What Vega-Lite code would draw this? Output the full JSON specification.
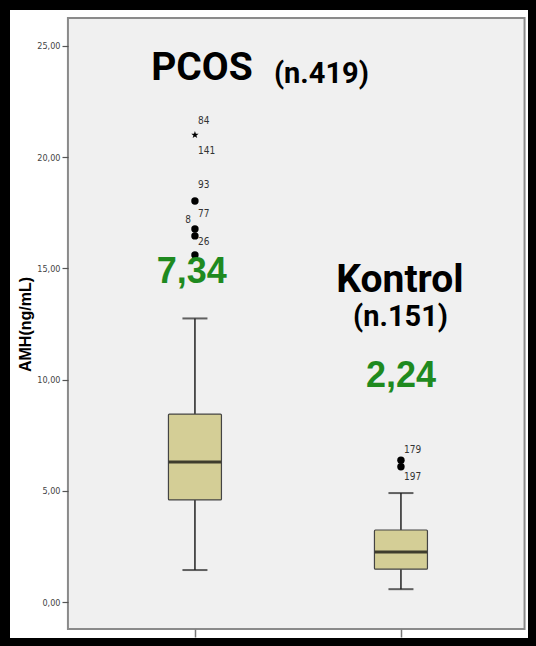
{
  "$schema": "https://vega.github.io/schema/vega-lite/v6.json",
  "width": 528,
  "height": 638,
  "autosize": "none",
  "padding": {"left": 5, "top": 5, "right": 3, "bottom": 3},
  "background": "white",
  "config": {"view": {"stroke": "black", "strokeWidth": 10, "fill": "white"}},
  "datasets": {
    "boxes": [
      {"group": "PCOS", "pos": 1, "lower": 1.44, "q1": 4.59, "median": 6.3, "q3": 8.45, "upper": 12.75},
      {"group": "Kontrol", "pos": 2, "lower": 0.58, "q1": 1.48, "median": 2.25, "q3": 3.24, "upper": 4.9}
    ],
    "outliers": [
      {"pos": 1, "value": 21.0, "kind": "extreme"},
      {"pos": 1, "value": 18.03, "kind": "out"},
      {"pos": 1, "value": 16.77, "kind": "out"},
      {"pos": 1, "value": 16.46, "kind": "out"},
      {"pos": 1, "value": 15.6, "kind": "out"},
      {"pos": 2, "value": 6.38, "kind": "out"},
      {"pos": 2, "value": 6.08, "kind": "out"}
    ],
    "caseids": [
      {"pos": 1, "value": 21.63, "id": "84", "side": "right"},
      {"pos": 1, "value": 20.28, "id": "141", "side": "right"},
      {"pos": 1, "value": 18.75, "id": "93", "side": "right"},
      {"pos": 1, "value": 17.45, "id": "77", "side": "right"},
      {"pos": 1, "value": 16.19, "id": "26", "side": "right"},
      {"pos": 1, "value": 17.18, "id": "8", "side": "left"},
      {"pos": 2, "value": 6.83, "id": "179", "side": "right"},
      {"pos": 2, "value": 5.62, "id": "197", "side": "right"}
    ],
    "notes": [
      {"text": "PCOS", "pos": 1.034, "value": 24.03, "role": "name"},
      {"text": "(n.419)", "pos": 1.614, "value": 23.75, "role": "count"},
      {"text": "Kontrol", "pos": 1.995, "value": 14.48, "role": "name"},
      {"text": "(n.151)", "pos": 1.998, "value": 12.81, "role": "count"},
      {"text": "7,34", "pos": 0.985, "value": 14.84, "role": "mean"},
      {"text": "2,24", "pos": 2.0, "value": 10.18, "role": "mean"}
    ]
  },
  "layer": [
    {
      "data": {"values": [{}]},
      "mark": {"type": "rect", "fill": "#f0f0f0", "stroke": "#8a8a8a", "strokeWidth": 2},
      "encoding": {
        "x": {"datum": 0.3835, "type": "quantitative", "title": null,
          "scale": {"domain": [0.078, 2.641], "nice": false, "zero": false, "padding": 0},
          "axis": {"values": [1, 2], "offset": -14, "labels": false, "domain": false, "grid": false, "tickSize": 8, "tickColor": "#777", "tickWidth": 1.5, "title": null, "zindex": 1}},
        "x2": {"datum": 2.6},
        "y": {"datum": 26.26, "type": "quantitative", "title": "AMH(ng/mL)",
          "scale": {"domain": [-1.84, 26.84], "nice": false, "zero": false, "padding": 0},
          "axis": {"values": [0, 5, 10, 15, 20, 25], "offset": -63, "domain": false, "grid": false, "tickSize": 6, "tickColor": "#555", "tickWidth": 1.2, "labelExpr": "replace(format(datum.value, '.2f'), '.', ',')", "labelFont": "Liberation Sans Narrow, DejaVu Sans Condensed, Liberation Sans, sans-serif", "labelFontSize": 9, "labelColor": "#444", "labelPadding": 2, "title": "AMH(ng/mL)", "titleFont": "Liberation Sans", "titleFontSize": 16, "titleFontWeight": "bold", "titleColor": "#000", "titlePadding": 3, "zindex": 1}},
        "y2": {"datum": -1.214}
      }
    },
    {
      "data": {"name": "boxes"},
      "mark": {"type": "rule", "stroke": "#222", "strokeWidth": 1.5},
      "encoding": {
        "x": {"field": "pos", "type": "quantitative", "title": null,
          "scale": {"domain": [0.078, 2.641], "nice": false, "zero": false, "padding": 0},
          "axis": {"values": [1, 2], "offset": -14, "labels": false, "domain": false, "grid": false, "tickSize": 8, "tickColor": "#777", "tickWidth": 1.5, "title": null, "zindex": 1}},
        "y": {"field": "lower", "type": "quantitative", "title": "AMH(ng/mL)",
          "scale": {"domain": [-1.84, 26.84], "nice": false, "zero": false, "padding": 0},
          "axis": {"values": [0, 5, 10, 15, 20, 25], "offset": -63, "domain": false, "grid": false, "tickSize": 6, "tickColor": "#555", "tickWidth": 1.2, "labelExpr": "replace(format(datum.value, '.2f'), '.', ',')", "labelFont": "Liberation Sans Narrow, DejaVu Sans Condensed, Liberation Sans, sans-serif", "labelFontSize": 9, "labelColor": "#444", "labelPadding": 2, "title": "AMH(ng/mL)", "titleFont": "Liberation Sans", "titleFontSize": 16, "titleFontWeight": "bold", "titleColor": "#000", "titlePadding": 3, "zindex": 1}},
        "y2": {"field": "upper"}
      }
    },
    {
      "data": {"name": "boxes"},
      "transform": [{"fold": ["lower", "upper"], "as": ["end", "whisker"]}],
      "mark": {"type": "tick", "orient": "horizontal", "size": 25, "thickness": 2, "color": "#222"},
      "encoding": {
        "x": {"field": "pos", "type": "quantitative", "title": null,
          "scale": {"domain": [0.078, 2.641], "nice": false, "zero": false, "padding": 0},
          "axis": {"values": [1, 2], "offset": -14, "labels": false, "domain": false, "grid": false, "tickSize": 8, "tickColor": "#777", "tickWidth": 1.5, "title": null, "zindex": 1}},
        "y": {"field": "whisker", "type": "quantitative", "title": "AMH(ng/mL)",
          "scale": {"domain": [-1.84, 26.84], "nice": false, "zero": false, "padding": 0},
          "axis": {"values": [0, 5, 10, 15, 20, 25], "offset": -63, "domain": false, "grid": false, "tickSize": 6, "tickColor": "#555", "tickWidth": 1.2, "labelExpr": "replace(format(datum.value, '.2f'), '.', ',')", "labelFont": "Liberation Sans Narrow, DejaVu Sans Condensed, Liberation Sans, sans-serif", "labelFontSize": 9, "labelColor": "#444", "labelPadding": 2, "title": "AMH(ng/mL)", "titleFont": "Liberation Sans", "titleFontSize": 16, "titleFontWeight": "bold", "titleColor": "#000", "titlePadding": 3, "zindex": 1}}
      }
    },
    {
      "data": {"name": "boxes"},
      "mark": {"type": "bar", "size": 53, "fill": "#d4ce96", "stroke": "#444", "strokeWidth": 1.2, "cornerRadius": 1},
      "encoding": {
        "x": {"field": "pos", "type": "quantitative", "title": null,
          "scale": {"domain": [0.078, 2.641], "nice": false, "zero": false, "padding": 0},
          "axis": {"values": [1, 2], "offset": -14, "labels": false, "domain": false, "grid": false, "tickSize": 8, "tickColor": "#777", "tickWidth": 1.5, "title": null, "zindex": 1}},
        "y": {"field": "q1", "type": "quantitative", "title": "AMH(ng/mL)",
          "scale": {"domain": [-1.84, 26.84], "nice": false, "zero": false, "padding": 0},
          "axis": {"values": [0, 5, 10, 15, 20, 25], "offset": -63, "domain": false, "grid": false, "tickSize": 6, "tickColor": "#555", "tickWidth": 1.2, "labelExpr": "replace(format(datum.value, '.2f'), '.', ',')", "labelFont": "Liberation Sans Narrow, DejaVu Sans Condensed, Liberation Sans, sans-serif", "labelFontSize": 9, "labelColor": "#444", "labelPadding": 2, "title": "AMH(ng/mL)", "titleFont": "Liberation Sans", "titleFontSize": 16, "titleFontWeight": "bold", "titleColor": "#000", "titlePadding": 3, "zindex": 1}},
        "y2": {"field": "q3"}
      }
    },
    {
      "data": {"name": "boxes"},
      "mark": {"type": "tick", "orient": "horizontal", "size": 52, "thickness": 3, "color": "#000"},
      "encoding": {
        "x": {"field": "pos", "type": "quantitative", "title": null,
          "scale": {"domain": [0.078, 2.641], "nice": false, "zero": false, "padding": 0},
          "axis": {"values": [1, 2], "offset": -14, "labels": false, "domain": false, "grid": false, "tickSize": 8, "tickColor": "#777", "tickWidth": 1.5, "title": null, "zindex": 1}},
        "y": {"field": "median", "type": "quantitative", "title": "AMH(ng/mL)",
          "scale": {"domain": [-1.84, 26.84], "nice": false, "zero": false, "padding": 0},
          "axis": {"values": [0, 5, 10, 15, 20, 25], "offset": -63, "domain": false, "grid": false, "tickSize": 6, "tickColor": "#555", "tickWidth": 1.2, "labelExpr": "replace(format(datum.value, '.2f'), '.', ',')", "labelFont": "Liberation Sans Narrow, DejaVu Sans Condensed, Liberation Sans, sans-serif", "labelFontSize": 9, "labelColor": "#444", "labelPadding": 2, "title": "AMH(ng/mL)", "titleFont": "Liberation Sans", "titleFontSize": 16, "titleFontWeight": "bold", "titleColor": "#000", "titlePadding": 3, "zindex": 1}}
      }
    },
    {
      "data": {"name": "outliers"},
      "transform": [{"filter": "datum.kind == 'out'"}],
      "mark": {"type": "point", "shape": "circle", "filled": true, "size": 55, "color": "#000", "opacity": 1},
      "encoding": {
        "x": {"field": "pos", "type": "quantitative", "title": null,
          "scale": {"domain": [0.078, 2.641], "nice": false, "zero": false, "padding": 0},
          "axis": {"values": [1, 2], "offset": -14, "labels": false, "domain": false, "grid": false, "tickSize": 8, "tickColor": "#777", "tickWidth": 1.5, "title": null, "zindex": 1}},
        "y": {"field": "value", "type": "quantitative", "title": "AMH(ng/mL)",
          "scale": {"domain": [-1.84, 26.84], "nice": false, "zero": false, "padding": 0},
          "axis": {"values": [0, 5, 10, 15, 20, 25], "offset": -63, "domain": false, "grid": false, "tickSize": 6, "tickColor": "#555", "tickWidth": 1.2, "labelExpr": "replace(format(datum.value, '.2f'), '.', ',')", "labelFont": "Liberation Sans Narrow, DejaVu Sans Condensed, Liberation Sans, sans-serif", "labelFontSize": 9, "labelColor": "#444", "labelPadding": 2, "title": "AMH(ng/mL)", "titleFont": "Liberation Sans", "titleFontSize": 16, "titleFontWeight": "bold", "titleColor": "#000", "titlePadding": 3, "zindex": 1}}
      }
    },
    {
      "data": {"name": "outliers"},
      "transform": [{"filter": "datum.kind == 'extreme'"}],
      "mark": {"type": "point", "shape": "M0,-1L0.24,-0.31L0.95,-0.31L0.38,0.12L0.59,0.81L0,0.4L-0.59,0.81L-0.38,0.12L-0.95,-0.31L-0.24,-0.31Z", "filled": true, "size": 60, "color": "#000", "opacity": 1},
      "encoding": {
        "x": {"field": "pos", "type": "quantitative", "title": null,
          "scale": {"domain": [0.078, 2.641], "nice": false, "zero": false, "padding": 0},
          "axis": {"values": [1, 2], "offset": -14, "labels": false, "domain": false, "grid": false, "tickSize": 8, "tickColor": "#777", "tickWidth": 1.5, "title": null, "zindex": 1}},
        "y": {"field": "value", "type": "quantitative", "title": "AMH(ng/mL)",
          "scale": {"domain": [-1.84, 26.84], "nice": false, "zero": false, "padding": 0},
          "axis": {"values": [0, 5, 10, 15, 20, 25], "offset": -63, "domain": false, "grid": false, "tickSize": 6, "tickColor": "#555", "tickWidth": 1.2, "labelExpr": "replace(format(datum.value, '.2f'), '.', ',')", "labelFont": "Liberation Sans Narrow, DejaVu Sans Condensed, Liberation Sans, sans-serif", "labelFontSize": 9, "labelColor": "#444", "labelPadding": 2, "title": "AMH(ng/mL)", "titleFont": "Liberation Sans", "titleFontSize": 16, "titleFontWeight": "bold", "titleColor": "#000", "titlePadding": 3, "zindex": 1}}
      }
    },
    {
      "data": {"name": "caseids"},
      "transform": [{"filter": "datum.side == 'right'"}],
      "mark": {"type": "text", "align": "left", "baseline": "middle", "dx": 3, "font": "Liberation Sans Narrow, DejaVu Sans Condensed, Liberation Sans, sans-serif", "fontSize": 10, "color": "#333"},
      "encoding": {
        "x": {"field": "pos", "type": "quantitative", "title": null,
          "scale": {"domain": [0.078, 2.641], "nice": false, "zero": false, "padding": 0},
          "axis": {"values": [1, 2], "offset": -14, "labels": false, "domain": false, "grid": false, "tickSize": 8, "tickColor": "#777", "tickWidth": 1.5, "title": null, "zindex": 1}},
        "y": {"field": "value", "type": "quantitative", "title": "AMH(ng/mL)",
          "scale": {"domain": [-1.84, 26.84], "nice": false, "zero": false, "padding": 0},
          "axis": {"values": [0, 5, 10, 15, 20, 25], "offset": -63, "domain": false, "grid": false, "tickSize": 6, "tickColor": "#555", "tickWidth": 1.2, "labelExpr": "replace(format(datum.value, '.2f'), '.', ',')", "labelFont": "Liberation Sans Narrow, DejaVu Sans Condensed, Liberation Sans, sans-serif", "labelFontSize": 9, "labelColor": "#444", "labelPadding": 2, "title": "AMH(ng/mL)", "titleFont": "Liberation Sans", "titleFontSize": 16, "titleFontWeight": "bold", "titleColor": "#000", "titlePadding": 3, "zindex": 1}},
        "text": {"field": "id"}
      }
    },
    {
      "data": {"name": "caseids"},
      "transform": [{"filter": "datum.side == 'left'"}],
      "mark": {"type": "text", "align": "right", "baseline": "middle", "dx": -4, "font": "Liberation Sans Narrow, DejaVu Sans Condensed, Liberation Sans, sans-serif", "fontSize": 10, "color": "#333"},
      "encoding": {
        "x": {"field": "pos", "type": "quantitative", "title": null,
          "scale": {"domain": [0.078, 2.641], "nice": false, "zero": false, "padding": 0},
          "axis": {"values": [1, 2], "offset": -14, "labels": false, "domain": false, "grid": false, "tickSize": 8, "tickColor": "#777", "tickWidth": 1.5, "title": null, "zindex": 1}},
        "y": {"field": "value", "type": "quantitative", "title": "AMH(ng/mL)",
          "scale": {"domain": [-1.84, 26.84], "nice": false, "zero": false, "padding": 0},
          "axis": {"values": [0, 5, 10, 15, 20, 25], "offset": -63, "domain": false, "grid": false, "tickSize": 6, "tickColor": "#555", "tickWidth": 1.2, "labelExpr": "replace(format(datum.value, '.2f'), '.', ',')", "labelFont": "Liberation Sans Narrow, DejaVu Sans Condensed, Liberation Sans, sans-serif", "labelFontSize": 9, "labelColor": "#444", "labelPadding": 2, "title": "AMH(ng/mL)", "titleFont": "Liberation Sans", "titleFontSize": 16, "titleFontWeight": "bold", "titleColor": "#000", "titlePadding": 3, "zindex": 1}},
        "text": {"field": "id"}
      }
    },
    {
      "data": {"name": "notes"},
      "transform": [{"filter": "datum.role != 'mean'"}],
      "mark": {"type": "text", "align": "center", "baseline": "middle", "font": "Roboto", "fontWeight": "bold", "color": "#000"},
      "encoding": {
        "x": {"field": "pos", "type": "quantitative", "title": null,
          "scale": {"domain": [0.078, 2.641], "nice": false, "zero": false, "padding": 0},
          "axis": {"values": [1, 2], "offset": -14, "labels": false, "domain": false, "grid": false, "tickSize": 8, "tickColor": "#777", "tickWidth": 1.5, "title": null, "zindex": 1}},
        "y": {"field": "value", "type": "quantitative", "title": "AMH(ng/mL)",
          "scale": {"domain": [-1.84, 26.84], "nice": false, "zero": false, "padding": 0},
          "axis": {"values": [0, 5, 10, 15, 20, 25], "offset": -63, "domain": false, "grid": false, "tickSize": 6, "tickColor": "#555", "tickWidth": 1.2, "labelExpr": "replace(format(datum.value, '.2f'), '.', ',')", "labelFont": "Liberation Sans Narrow, DejaVu Sans Condensed, Liberation Sans, sans-serif", "labelFontSize": 9, "labelColor": "#444", "labelPadding": 2, "title": "AMH(ng/mL)", "titleFont": "Liberation Sans", "titleFontSize": 16, "titleFontWeight": "bold", "titleColor": "#000", "titlePadding": 3, "zindex": 1}},
        "text": {"field": "text"},
        "size": {"field": "role", "type": "nominal", "scale": {"domain": ["name", "count"], "range": [39, 29]}, "legend": null}
      }
    },
    {
      "data": {"name": "notes"},
      "transform": [{"filter": "datum.role == 'mean'"}],
      "mark": {"type": "text", "align": "center", "baseline": "middle", "font": "Liberation Sans", "fontWeight": "bold", "fontSize": 36, "color": "#1f8a1f"},
      "encoding": {
        "x": {"field": "pos", "type": "quantitative", "title": null,
          "scale": {"domain": [0.078, 2.641], "nice": false, "zero": false, "padding": 0},
          "axis": {"values": [1, 2], "offset": -14, "labels": false, "domain": false, "grid": false, "tickSize": 8, "tickColor": "#777", "tickWidth": 1.5, "title": null, "zindex": 1}},
        "y": {"field": "value", "type": "quantitative", "title": "AMH(ng/mL)",
          "scale": {"domain": [-1.84, 26.84], "nice": false, "zero": false, "padding": 0},
          "axis": {"values": [0, 5, 10, 15, 20, 25], "offset": -63, "domain": false, "grid": false, "tickSize": 6, "tickColor": "#555", "tickWidth": 1.2, "labelExpr": "replace(format(datum.value, '.2f'), '.', ',')", "labelFont": "Liberation Sans Narrow, DejaVu Sans Condensed, Liberation Sans, sans-serif", "labelFontSize": 9, "labelColor": "#444", "labelPadding": 2, "title": "AMH(ng/mL)", "titleFont": "Liberation Sans", "titleFontSize": 16, "titleFontWeight": "bold", "titleColor": "#000", "titlePadding": 3, "zindex": 1}},
        "text": {"field": "text"}
      }
    }
  ]
}
